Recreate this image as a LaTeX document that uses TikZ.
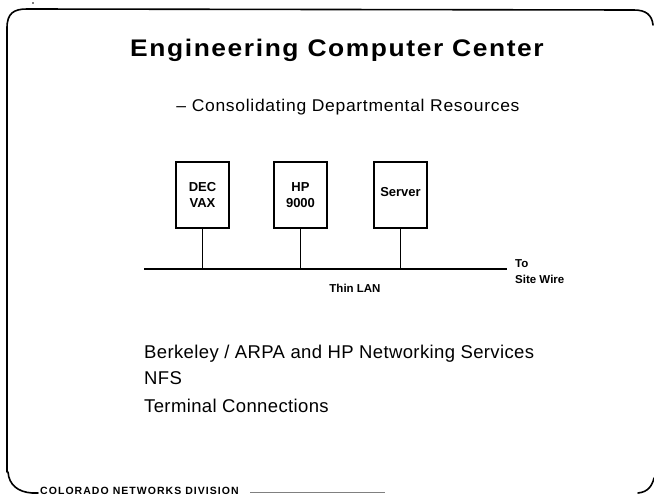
\documentclass[tikz,border=0pt]{standalone}
\usepackage{fontspec}
\setmainfont{Liberation Sans}
\begin{document}
\begin{tikzpicture}[x=1pt,y=-1pt,
  frame/.style={line width=1.6pt,line cap=round},
  hostbox/.style={draw,line width=1.4pt,minimum width=53pt,minimum height=66pt,inner sep=0pt,font=\fontsize{13}{15.5}\selectfont\bfseries,align=center},
  wire/.style={line width=1.4pt},
  small/.style={font=\fontsize{11.5}{13}\selectfont\bfseries,inner sep=0pt}]
\useasboundingbox (0,0) rectangle (654,495);
% frame
\draw[frame] (7,472) -- (7,28) .. controls (7,13) and (14,9) .. (27,9) -- (634,10) .. controls (646,10) and (652,15) .. (653,25);
\draw[frame] (8,472) .. controls (9,485) and (18,492) .. (32,493) -- (38,493);
\draw[frame] (638,493) .. controls (648,492) and (652,486) .. (654,478);
\fill (33,3) circle (0.9pt);
% titles
\node[anchor=base,inner sep=0pt,font=\fontsize{24}{27}\selectfont\bfseries\addfontfeature{LetterSpace=6}] (title) at (337,57) {\scalebox{1.1}[1]{Engineering Computer Center}};
\node[anchor=base,inner sep=0pt,font=\fontsize{17}{20}\selectfont\addfontfeature{LetterSpace=4}] (sub) at (348,111) {\scalebox{1.03}[1]{– Consolidating Departmental Resources}};
% hosts
\node[hostbox] (vax) at (202.5,195) {DEC\\VAX};
\node[hostbox] (hp) at (300.5,195) {HP\\9000};
\node[hostbox,text depth=6pt] (srv) at (400.5,195) {Server};
\coordinate (lanL) at (144,269);
\coordinate (lanR) at (507,269);
\draw[wire] (lanL) -- (lanR);
\draw[wire] (vax.south) -- (vax.south |- lanL);
\draw[wire] (hp.south) -- (hp.south |- lanL);
\draw[wire] (srv.south) -- (srv.south |- lanL);
\node[small,anchor=base west] (to) at (515,267) {To};
\node[small,anchor=base west] (site) at (515,283) {Site Wire};
\node[small,anchor=base] (thin) at (355,292) {Thin LAN};
% list
\node[anchor=base west,inner sep=0pt,font=\fontsize{18.5}{22}\selectfont\addfontfeature{LetterSpace=2}] (l1) at (144,358) {Berkeley / ARPA and HP Networking Services};
\node[anchor=base west,inner sep=0pt,font=\fontsize{18.5}{22}\selectfont\addfontfeature{LetterSpace=2}] (l2) at (144,384) {NFS};
\node[anchor=base west,inner sep=0pt,font=\fontsize{18.5}{22}\selectfont\addfontfeature{LetterSpace=2}] (l3) at (144,412) {Terminal Connections};
% footer
\node[anchor=base west,inner sep=0pt,font=\fontsize{10.5}{12}\selectfont\bfseries\addfontfeature{LetterSpace=10}] (foot) at (40,494) {COLORADO NETWORKS DIVISION};
\draw[line width=1pt,gray] (250,492) -- (385,492);
\end{tikzpicture}
\end{document}
